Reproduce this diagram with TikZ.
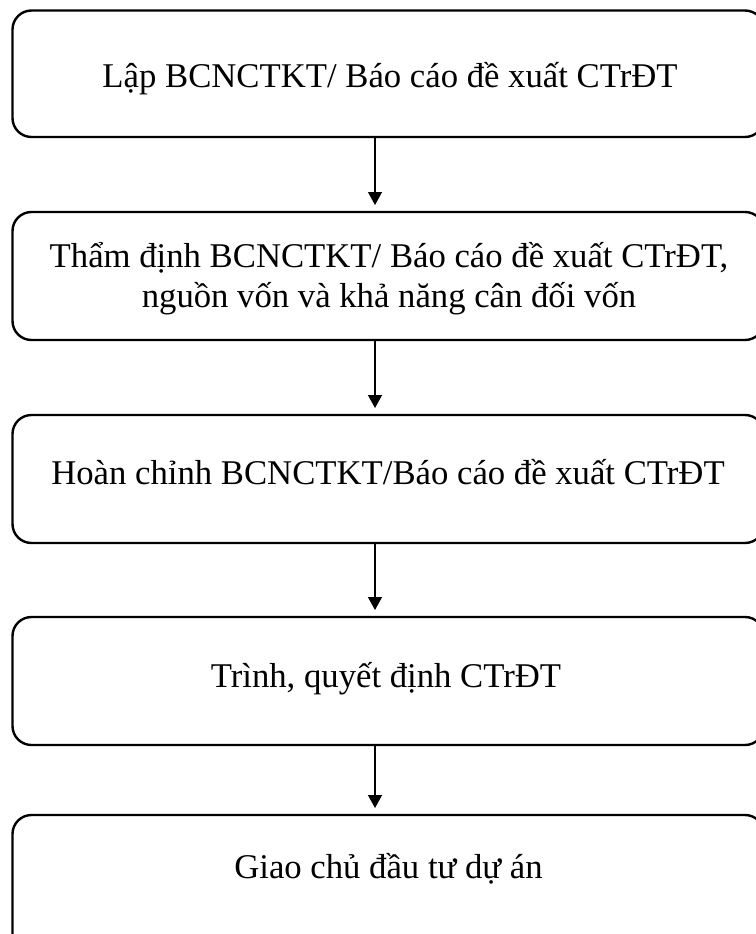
\documentclass[tikz,border=0pt]{standalone}
\usepackage{fontspec}
\setmainfont{Liberation Serif}
\usetikzlibrary{arrows.meta}
\begin{document}
\begin{tikzpicture}[x=1pt,y=-1pt,
 box/.style={draw, line width=2.4pt, rounded corners=19pt, minimum width=751.5pt, inner sep=0pt, outer sep=0pt},
 txt/.style={anchor=base, inner sep=0pt, font=\fontsize{34.7}{41}\selectfont},
 arr/.style={-{Triangle[width=14pt,length=13pt]}, line width=1.3pt, shorten >=7pt}]
\useasboundingbox (0,0) rectangle (755,934);
\node[box, minimum height=126.5pt] (b1) at (388.25,73.75) {};
\node[box, minimum height=128pt] (b2) at (388.25,276) {};
\node[box, minimum height=128pt] (b3) at (388.25,479) {};
\node[box, minimum height=128pt] (b4) at (388.25,681) {};
\node[box, minimum height=140pt] (b5) at (388.25,885) {};
\node[txt] (t1) at (390,87) {Lập BCNCTKT/ Báo cáo đề xuất CTrĐT};
\node[txt] (t2a) at (389,267) {Thẩm định BCNCTKT/ Báo cáo đề xuất CTrĐT,};
\node[txt] (t2b) at (389,307) {nguồn vốn và khả năng cân đối vốn};
\node[txt] (t3) at (388,484) {Hoàn chỉnh BCNCTKT/Báo cáo đề xuất CTrĐT};
\node[txt] (t4) at (386,687) {Trình, quyết định CTrĐT};
\node[txt] (t5) at (388.5,878) {Giao chủ đầu tư dự án};
\draw[arr] ([xshift=-13.25pt]b1.south) -- ([xshift=-13.25pt]b2.north);
\draw[arr] ([xshift=-13.25pt]b2.south) -- ([xshift=-13.25pt]b3.north);
\draw[arr] ([xshift=-13.25pt]b3.south) -- ([xshift=-13.25pt]b4.north);
\draw[arr] ([xshift=-13.25pt]b4.south) -- ([xshift=-13.25pt]b5.north);
\end{tikzpicture}
\end{document}
